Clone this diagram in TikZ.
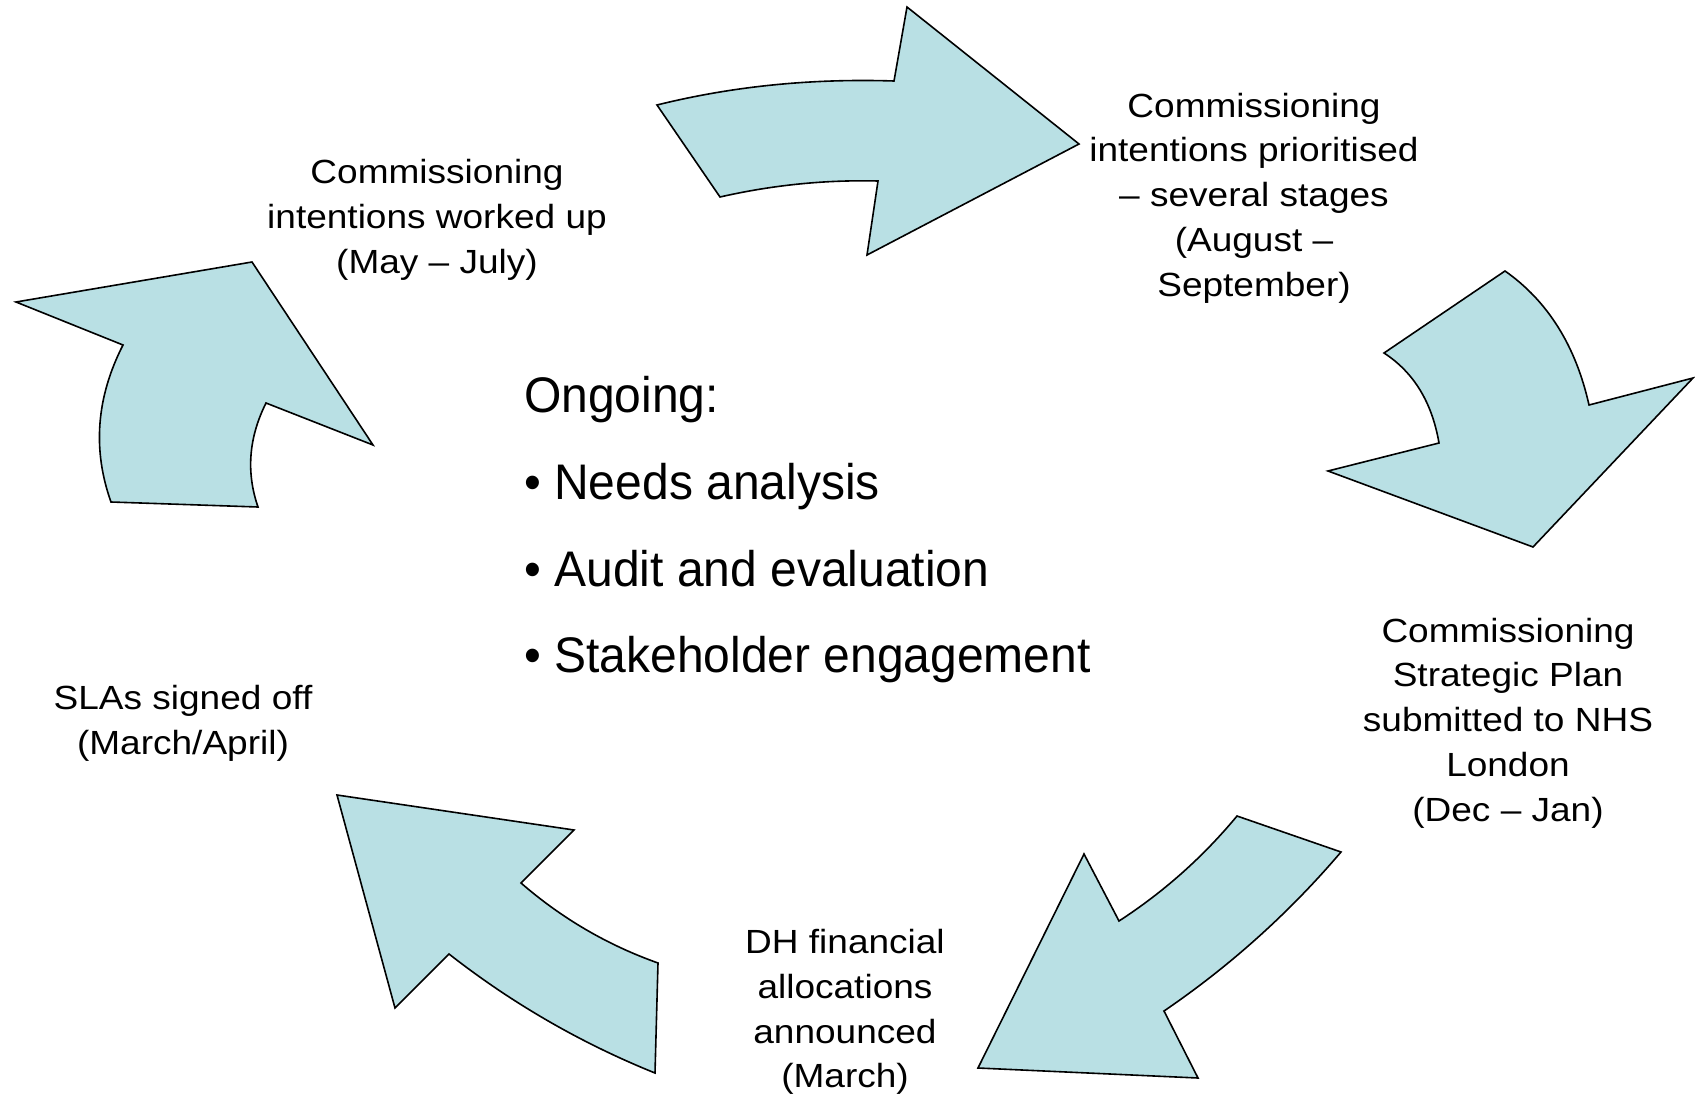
\documentclass[tikz,border=0pt]{standalone}
\usepackage{fontspec}
\setmainfont{Liberation Sans}
\newfontfamily\lblfont{Liberation Sans}[FakeStretch=1.105]
\newfontfamily\ongfont{Liberation Sans}[FakeStretch=0.96]
\definecolor{arrowfill}{RGB}{185,224,228}
\begin{document}
\begin{tikzpicture}[x=1pt,y=-1pt,
  cyc/.style={fill=arrowfill,draw=black,line width=1.6pt,line join=miter},
  lbl/.style={font=\lblfont\fontsize{33.5}{44.7}\selectfont,align=center,inner sep=0pt},
  ong/.style={font=\ongfont\fontsize{50}{60}\selectfont,anchor=base west,inner sep=0pt}]
\useasboundingbox (0,0) rectangle (1695,1094);

% top arrow
\draw[cyc] (657,105) .. controls (732.3,86.3) and (811.3,78.3) .. (894,81) -- (907,7) -- (1079,144)
  -- (867,255) -- (878,181) .. controls (825.3,179.7) and (772.7,185) .. (720,197) -- cycle;
% right arrow
\draw[cyc] (1505,271) .. controls (1547.7,301) and (1575.7,345.7) .. (1589,405) -- (1693,378) -- (1533,547)
  -- (1328,471) -- (1439,443) .. controls (1432,402.3) and (1413.7,372.3) .. (1384,353) -- cycle;
% bottom-right arrow
\draw[cyc] (1237,816) -- (1341,852) .. controls (1289,913) and (1230,966) .. (1164,1011) -- (1198,1078)
  -- (978,1068) -- (1084,854) -- (1119,921) .. controls (1163.7,892) and (1203,857) .. (1237,816) -- cycle;
% bottom-left arrow
\draw[cyc] (337,795) -- (574,830) -- (521,883) .. controls (561.7,918.3) and (607.3,945) .. (658,963)
  -- (655,1073) .. controls (580.7,1043) and (512,1003.3) .. (449,954) -- (395,1008) -- cycle;
% left arrow
\draw[cyc] (252,262) -- (373,445) -- (266,403) .. controls (248.7,437.7) and (246,472.3) .. (258,507)
  -- (111,502) .. controls (92.3,449.7) and (96.3,397.3) .. (123,345) -- (16,302) -- cycle;

\node[lbl] (worked) at (437,220) {Commissioning\\intentions worked up\\(May – July)};
\node[lbl] (prior) at (1254,198) {Commissioning\\intentions prioritised\\– several stages\\(August –\\September)};
\node[lbl] (csp) at (1508,723) {Commissioning\\Strategic Plan\\submitted to NHS\\London\\(Dec – Jan)};
\node[lbl] (dh) at (845,1012) {DH financial\\allocations\\announced\\(March)};
\node[lbl] (sla) at (183,723) {SLAs signed off\\(March/April)};

\node[ong] (ongoing) at (524,412) {Ongoing:};
\node[ong] (needs) at (524,499.5) {• Needs analysis};
\node[ong] (audit) at (524,586) {• Audit and evaluation};
\node[ong] (stake) at (524,672.5) {• Stakeholder engagement};
\end{tikzpicture}
\end{document}
